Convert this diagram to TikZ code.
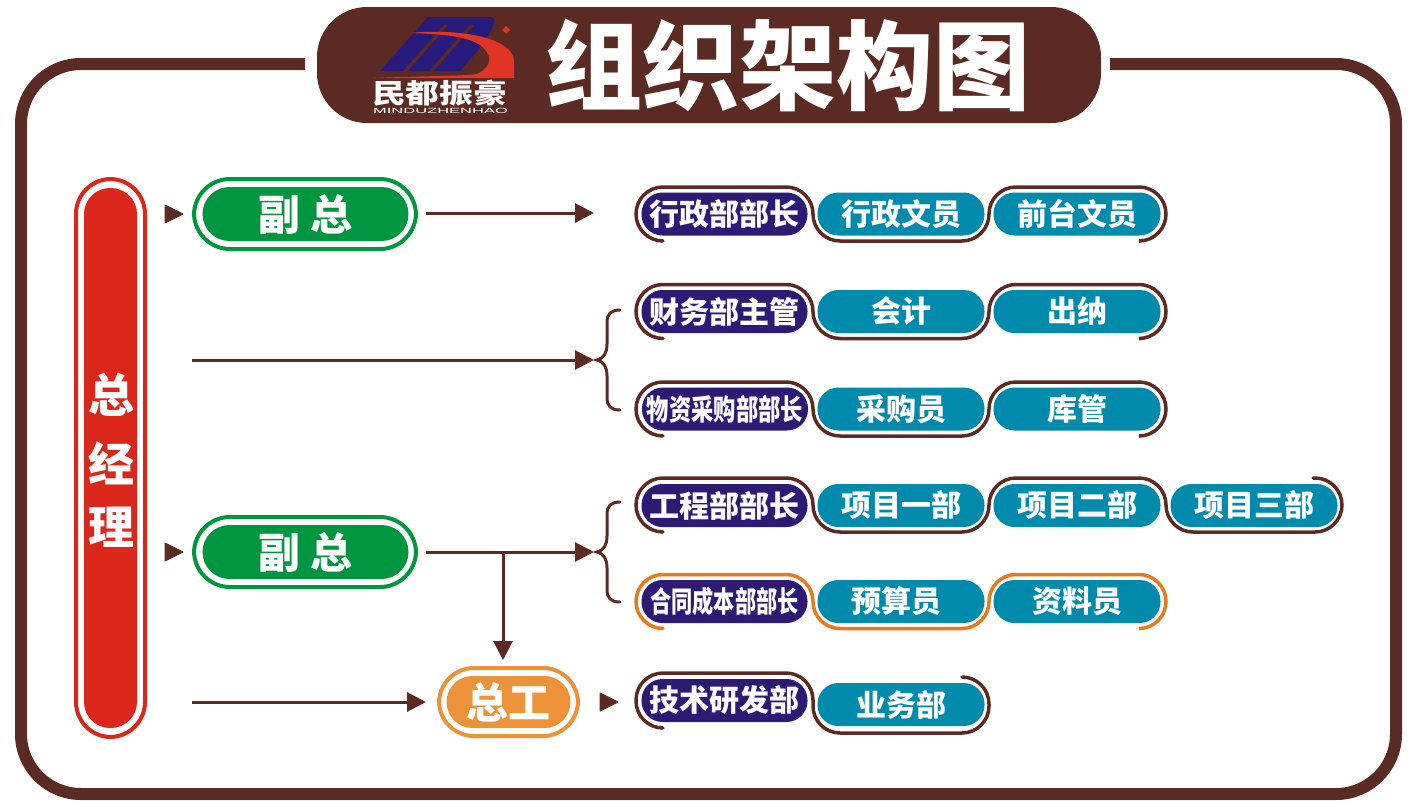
\documentclass[tikz,border=0pt]{standalone}
\usepackage{graphicx}
\usepackage{fontspec}
\setmainfont{Noto Sans CJK SC}
\newfontfamily\latinfont{Liberation Sans}
\usetikzlibrary{arrows.meta}
\definecolor{brownc}{HTML}{5B2A23}
\definecolor{navyc}{HTML}{2D1A75}
\definecolor{tealc}{HTML}{008AAC}
\definecolor{greenc}{HTML}{00963F}
\definecolor{redc}{HTML}{DB261B}
\definecolor{orangec}{HTML}{EC9239}
\definecolor{orangeline}{HTML}{E87A1A}
\definecolor{logoblue}{HTML}{261A7C}
\definecolor{logored}{HTML}{E03424}
\tikzset{
  pillbase/.style={rectangle,rounded corners=21pt,minimum height=43pt,inner sep=0pt,text=white,font=\bfseries\fontsize{30}{30}\selectfont},
  navypill/.style={pillbase,fill=navyc,minimum width=166pt},
  tealpill/.style={pillbase,fill=tealc,minimum width=167pt},
  rowline/.style={draw=brownc,line width=3.5pt,rounded corners=27pt,line cap=round},
  arrowline/.style={draw=brownc,line width=3pt,-{Triangle[length=19pt,width=19pt]}},
  bracel/.style={draw=brownc,line width=3pt,line cap=round},
  outerpill/.style={rectangle,fill=white,line width=4pt,inner sep=0pt},
  bigtext/.style={text=white,font=\bfseries\fontsize{42}{42}\selectfont},
  gmtext/.style={text=white,font=\bfseries\fontsize{46}{46}\selectfont},
}
\newcommand{\threeseg}[2]{\draw[rowline,draw=#2] (663,#1+27) -- (636,#1+27) -- (636,#1-27) -- (813,#1-27) -- (813,#1+27) -- (989,#1+27) -- (989,#1-27) -- (1166,#1-27) -- (1166,#1+27) -- (1140,#1+27);}
\newcommand{\bracket}[1]{\draw[bracel] (620,#1-50) .. controls (611,#1-50) and (607,#1-46) .. (607,#1-38) -- (607,#1-16) .. controls (607,#1-7) and (604,#1-2) .. (597,#1) .. controls (604,#1+2) and (607,#1+7) .. (607,#1+16) -- (607,#1+38) .. controls (607,#1+46) and (611,#1+50) .. (620,#1+50);}
\newcommand{\headmark}[2]{\fill[brownc,draw=brownc,line width=1pt,line join=round] (#1,#2-9) -- (#1+18,#2) -- (#1,#2+9) -- cycle;}
\newcommand{\narrowtext}[2]{\scalebox{#1}[1]{#2}}
\begin{document}
\begin{tikzpicture}[x=1pt,y=-1pt]
\useasboundingbox (0,0) rectangle (1417,804);
\fill[white] (0,0) rectangle (1417,804);
% outer frame
\draw[draw=brownc,line width=12pt,rounded corners=60pt] (305,64) -- (21,64) -- (21,794) -- (1396,794) -- (1396,64) -- (1110,64);
% header
\fill[brownc,rounded corners=50pt] (317,7) rectangle (1101,123);
\node[text=white,font=\bfseries\fontsize{97}{97}\selectfont,inner sep=0pt] (title) at (788,65) {组织架构图};
% logo
\fill[logoblue] (428,17) -- (492,17) -- (495,20) -- (491,31) -- (478,50) -- (460,71) -- (380,71) -- cycle;
\draw[brownc,line width=3.4pt] (404.5,72) -- (446,25) (430.5,72) -- (472,25);
\fill[logored] (410,33) .. controls (460,28) and (515,38) .. (514,62) -- (514,78) -- (373,78) .. controls (420,76) and (470,76) .. (477,74) .. controls (494,66) and (492,54) .. (480,45) .. controls (465,35) and (435,34) .. (410,33) -- cycle;
\fill[logored] (506,26) -- (510,30) -- (506,34) -- (502,30) -- cycle;
\node[text=white,font=\bfseries\fontsize{27}{27}\selectfont,inner sep=0pt,xscale=1.25,transform shape] (logocn) at (439.5,93.5) {民都振豪};
\node[text=white,font=\latinfont\fontsize{7.5}{7.5}\selectfont,inner sep=0pt,xscale=2.2,transform shape] (logoen) at (440.5,110.5) {MINDUZHENHAO};
% general manager
\node[outerpill,draw=redc,minimum width=69pt,minimum height=558pt,rounded corners=35pt] (gmout) at (110.5,458) {};
\node[rectangle,fill=redc,minimum width=53pt,minimum height=540pt,rounded corners=26pt,inner sep=0pt] (gm) at (110.5,458) {};
\node[gmtext] (gm1) at (111,395) {总};
\node[gmtext] (gm2) at (111,463) {经};
\node[gmtext] (gm3) at (111,527) {理};
% vice presidents
\node[outerpill,draw=greenc,minimum width=222pt,minimum height=70pt,rounded corners=36pt] (vaout) at (305,214) {};
\node[rectangle,fill=greenc,minimum width=206pt,minimum height=54pt,rounded corners=27pt,inner sep=0pt,bigtext] (va) at (305.5,214) {副\hspace{10pt}总};
\node[outerpill,draw=greenc,minimum width=222pt,minimum height=70pt,rounded corners=36pt] (vbout) at (305,552) {};
\node[rectangle,fill=greenc,minimum width=206pt,minimum height=54pt,rounded corners=27pt,inner sep=0pt,bigtext] (vb) at (305.5,552) {副\hspace{10pt}总};
\node[outerpill,draw=orangec,minimum width=139pt,minimum height=68pt,rounded corners=35pt] (zgout) at (508.5,702) {};
\node[rectangle,fill=orangec,minimum width=124pt,minimum height=52pt,rounded corners=26pt,inner sep=0pt,bigtext] (zg) at (508.5,702) {总工};
% row outlines
\threeseg{214}{brownc}
\threeseg{311.5}{brownc}
\threeseg{409}{brownc}
\draw[rowline] (663,532) -- (636,532) -- (636,478) -- (813,478) -- (813,532) -- (989,532) -- (989,478) -- (1166,478) -- (1166,532) -- (1342,532) -- (1342,478) -- (1313,478);
\threeseg{601.5}{orangeline}
\draw[rowline] (663,728) -- (636,728) -- (636,673) -- (813,673) -- (813,733) -- (989,733) -- (989,677) -- (962,677);
% row 1
\node[navypill] (r1a) at (724.5,214) {行政部部长};
\node[tealpill] (r1b) at (901,214) {行政文员};
\node[tealpill] (r1c) at (1077,214) {前台文员};
% row 2
\node[navypill] (r2a) at (724.5,311.5) {财务部主管};
\node[tealpill] (r2b) at (901,311.5) {会计};
\node[tealpill] (r2c) at (1077,311.5) {出纳};
% row 3
\node[navypill,font=\bfseries\fontsize{29}{29}\selectfont] (r3a) at (725,409) {\narrowtext{0.77}{物资采购部部长}};
\node[tealpill] (r3b) at (901,409) {采购员};
\node[tealpill] (r3c) at (1077,409) {库管};
% row 4
\node[navypill] (r4a) at (724.5,505.5) {工程部部长};
\node[tealpill] (r4b) at (901,505.5) {项目一部};
\node[tealpill] (r4c) at (1077,505.5) {项目二部};
\node[tealpill] (r4d) at (1254,505.5) {项目三部};
% row 5
\node[navypill,font=\bfseries\fontsize{29}{29}\selectfont] (r5a) at (724.5,601.5) {\narrowtext{0.73}{合同成本部部长}};
\node[tealpill] (r5b) at (901,601.5) {\hspace{-10pt}预算员};
\node[tealpill] (r5c) at (1077,601.5) {资料员};
% row 6
\node[navypill] (r6a) at (724.5,700.5) {技术研发部};
\node[tealpill] (r6b) at (901,704.5) {业务部};
% braces
\bracket{360}
\bracket{552}
% connectors
\coordinate (t1) at (594,213);
\coordinate (s2) at (192,360);
\coordinate (t2) at (594,360);
\coordinate (t3) at (594,552);
\coordinate (s4) at (192,702);
\coordinate (j1) at (503,552);
\draw[arrowline,shorten <=8pt] (vaout.east |- t1) -- (t1);
\draw[arrowline] (s2) -- (t2);
\draw[arrowline,shorten <=8pt] (vbout.east) -- (t3);
\draw[arrowline,shorten >=6pt] (j1) -- (j1 |- zgout.north);
\draw[arrowline,shorten >=11pt] (s4) -- (zgout.west);
% small markers
\headmark{165}{214}
\headmark{165}{552}
\headmark{600}{702}
\end{tikzpicture}
\end{document}
